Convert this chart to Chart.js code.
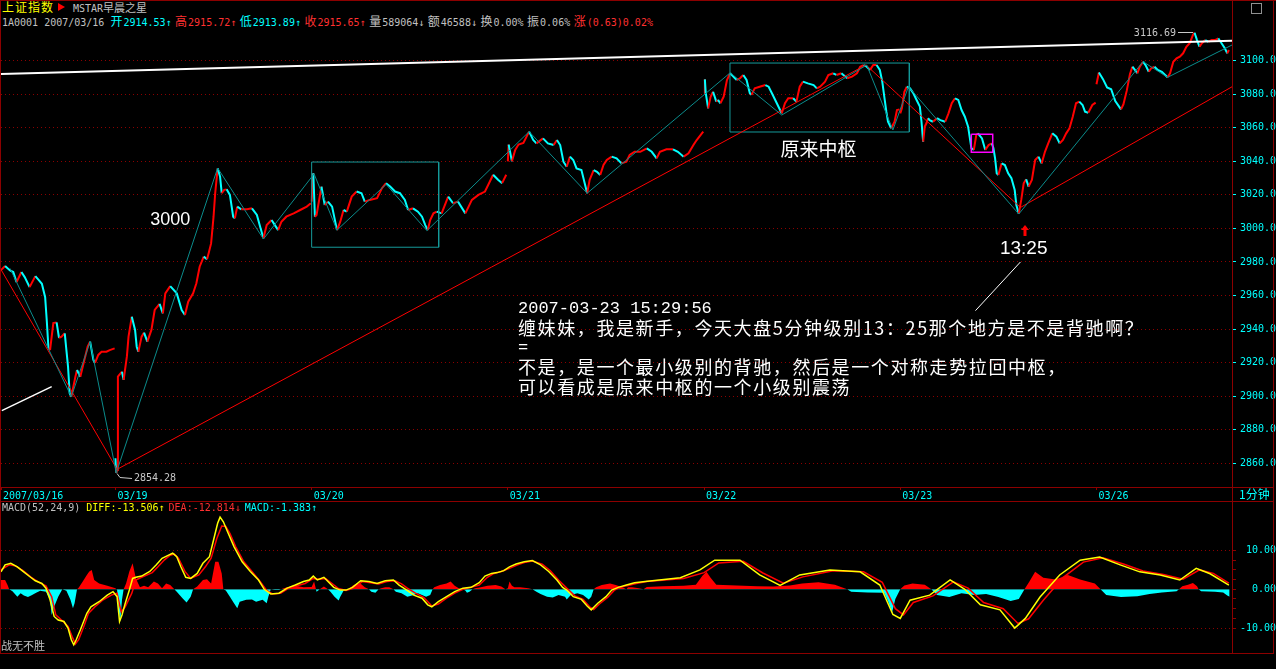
<!DOCTYPE html>
<html lang="zh-CN">
<head>
<meta charset="utf-8">
<title>上证指数 1分钟</title>
<script src="https://cdn.jsdelivr.net/npm/chart.js"></script>
<style>
  html, body { margin:0; padding:0; background:#000; }
  #screen { position:relative; width:1276px; height:669px; overflow:hidden; background:#000;
            font-family:"DejaVu Sans Mono", monospace; }
  .txt { position:absolute; white-space:nowrap; font-size:10px; line-height:12px; }
  .cjk { font-family:"Noto Sans CJK SC", sans-serif; font-size:12px; letter-spacing:1px; }
  .hl { position:absolute; height:1px; background:#8c0000; }
  .vl { position:absolute; width:1px; background:#8c0000; }
  canvas { position:absolute; left:0; }
  .gap { margin-right:4px; }
  .g { margin-right:3.5px; }
</style>
</head>
<body>
<div id="screen">
  <!-- title rows -->
  <div class="txt cjk" style="left:2px;top:0px;color:#ffff00;line-height:14px;letter-spacing:1px;">上证指数</div>
  <div style="position:absolute;left:58px;top:3px;width:0;height:0;border-left:7px solid #ff0000;border-top:4px solid transparent;border-bottom:4px solid transparent;"></div>
  <div class="txt" style="left:73px;top:1px;color:#c0c0c0;line-height:13px;">MSTAR<span class="cjk" style="font-size:11px;letter-spacing:0;">早晨之星</span></div>
  <div class="txt" style="left:2px;top:14px;line-height:13px;color:#c0c0c0;">1A0001 2007/03/16 <span class="g" style="color:#00ffff"><span class="cjk">开</span>2914.53↑</span><span class="g" style="color:#ff3030"><span class="cjk">高</span>2915.72↑</span><span class="g" style="color:#00ffff"><span class="cjk">低</span>2913.89↑</span><span class="g" style="color:#ff3030"><span class="cjk">收</span>2915.65↑</span><span class="g"><span class="cjk">量</span>589064↓</span><span class="g"><span class="cjk">额</span>46588↓</span><span class="g"><span class="cjk">换</span>0.00%</span><span class="g"><span class="cjk">振</span>0.06%</span><span style="color:#ff3030"><span class="cjk">涨</span>(0.63)0.02%</span></div>
  <div style="position:absolute;left:1251px;top:3px;width:9px;height:9px;border:1px solid #909090;"></div>

  <canvas id="main" width="1276" height="473" style="top:28px"></canvas>
  <canvas id="macd" width="1276" height="152" style="top:501px"></canvas>

  <!-- panel frame -->
  <div class="hl" style="left:0;top:0;width:1276px;"></div>
  <div class="hl" style="left:0;top:487px;width:1274px;"></div>
  <div class="hl" style="left:0;top:501px;width:1274px;"></div>
  <div class="hl" style="left:0;top:653px;width:1274px;"></div>
  <div class="vl" style="left:0;top:0;height:654px;"></div>
  <div class="vl" style="left:1232px;top:0;height:654px;"></div>
  <div class="vl" style="left:1273px;top:0;height:654px;"></div>

  <div class="txt cjk" style="left:1239px;top:486px;color:#00ffff;line-height:16px;letter-spacing:0;">1分钟</div>
  <div class="txt" style="left:2px;top:502px;color:#c0c0c0;">MACD(52,24,9) <span class="gap" style="color:#ffff00">DIFF:-13.506↑</span><span class="gap" style="color:#ff3030">DEA:-12.814↓</span><span style="color:#00ffff">MACD:-1.383↑</span></div>
  <div class="txt cjk" style="left:1px;top:638px;color:#c0c0c0;font-size:11px;letter-spacing:0;line-height:14px;">战无不胜</div>
</div>

<script>
// ---------- time axis: one slot per trading minute ----------
const dayLabels = ['2007/03/16', '03/19', '03/20', '03/21', '03/22', '03/23', '03/26'];
const dayStart  = [0, 140, 380, 620, 860, 1100, 1340];
const priceTicks = [2860, 2880, 2900, 2920, 2940, 2960, 2980, 3000, 3020, 3040, 3060, 3080, 3100];
const macdTicks  = [-10, -7.5, -5, -2.5, 0, 2.5, 5, 7.5, 10];

// ---------- index level, [minute of session, price] ----------
const p0316 = [[0,2975.2],[5,2977.6],[11,2975.0],[15,2974.0],[19,2968.0],[25,2974.0],[29,2971.0],[35,2965.0],[42,2971.6],[46,2969.3],[50,2967.0],[54,2959.0],[56,2945.0],[58,2929.0],[60,2927.5],[64,2943.6],[68,2944.0],[71,2934.7],[74,2935.5],[78,2937.5],[80,2927.5],[82,2917.6],[84,2901.7],[86,2899.7],[91,2911.6],[93,2915.6],[97,2911.6],[101,2919.6],[106,2929.5],[109,2932.5],[113,2921.6],[115,2919.8],[119,2924.6],[123,2926.5],[129,2926.5],[133,2927.5],[139,2928.5]];
const p0319 = [[0,2863.0],[1,2854.28],[2,2856.0],[3,2911.7],[8,2914.6],[10,2909.7],[14,2923.7],[16,2935.5],[20,2947.4],[24,2939.5],[26,2929.5],[28,2926.5],[32,2935.5],[35,2937.9],[39,2932.5],[44,2939.5],[48,2951.4],[54,2955.0],[58,2949.4],[61,2961.3],[67,2965.6],[75,2961.3],[81,2951.4],[85,2948.4],[89,2956.3],[95,2961.3],[99,2967.3],[103,2977.2],[108,2983.2],[112,2981.6],[114,2985.2],[117,2991.1],[120,3007.0],[122,3021.0],[125,3035.8],[128,3030.8],[130,3021.0],[133,3023.0],[136,3023.3],[140,3020.0],[144,3007.0],[146,3006.0],[149,3013.0],[154,3011.4],[161,3011.4],[167,3012.0],[173,3008.0],[177,3001.0],[181,2994.1],[185,3002.0],[191,3005.0],[195,3002.0],[199,2999.0],[203,3004.0],[209,3007.0],[218,3009.0],[226,3011.0],[234,3013.0],[239,3015.0]];
const p0320 = [[0,3016.0],[2,3032.9],[4,3007.0],[6,3008.0],[12,3024.9],[16,3014.0],[20,3016.0],[25,3013.0],[31,2999.0],[35,3004.0],[39,3011.0],[43,3010.0],[49,3019.0],[55,3022.0],[61,3021.0],[65,3016.0],[71,3017.0],[80,3018.0],[86,3024.0],[91,3027.0],[96,3025.0],[102,3022.0],[108,3021.0],[114,3017.0],[118,3011.0],[124,3012.0],[130,3010.0],[135,3007.0],[139,3002.0],[142,2999.0],[145,3005.0],[149,3009.0],[153,3010.0],[159,3009.0],[167,3019.0],[173,3015.0],[179,3016.0],[188,3009.0],[196,3017.0],[204,3020.0],[212,3022.0],[218,3028.0],[222,3032.0],[228,3029.0],[233,3027.0],[238,3032.0]];
const p0321 = [[0,3040.0],[1,3050.0],[5,3040.0],[9,3046.8],[13,3050.0],[19,3051.0],[26,3057.7],[31,3052.7],[35,3050.7],[43,3053.7],[49,3050.7],[56,3049.7],[60,3052.7],[64,3049.7],[68,3039.8],[72,3036.8],[76,3042.8],[80,3040.8],[84,3035.8],[90,3034.8],[94,3026.9],[97,3021.0],[100,3028.9],[105,3034.8],[109,3033.8],[113,3031.9],[117,3037.8],[121,3040.8],[127,3042.8],[133,3041.8],[139,3038.8],[145,3039.8],[149,3043.8],[155,3045.7],[162,3045.7],[170,3047.7],[176,3045.7],[182,3041.8],[186,3045.7],[194,3047.2],[202,3047.2],[208,3045.7],[215,3042.8],[221,3044.8],[227,3049.7],[231,3052.7],[239,3057.7]];
const p0322 = [[0,3080.6],[1,3088.9],[2,3081.0],[5,3071.6],[8,3078.5],[11,3081.5],[15,3075.6],[17,3076.6],[20,3074.6],[24,3078.5],[28,3088.5],[32,3092.5],[34,3091.5],[40,3088.5],[44,3089.5],[48,3091.5],[52,3088.5],[56,3080.6],[58,3079.6],[62,3083.5],[68,3084.5],[75,3085.5],[79,3084.5],[83,3080.6],[89,3074.6],[93,3070.6],[95,3068.6],[99,3074.6],[103,3077.6],[109,3077.6],[113,3075.6],[117,3084.5],[121,3087.5],[127,3086.5],[134,3085.5],[138,3083.5],[142,3084.5],[148,3087.5],[152,3091.5],[158,3092.5],[162,3091.5],[168,3092.5],[175,3089.5],[181,3090.5],[187,3092.5],[191,3096.4],[195,3097.4],[199,3096.4],[203,3094.5],[207,3097.4],[211,3097.4],[215,3094.5],[218,3087.5],[221,3076.6],[223,3069.6],[225,3063.6],[229,3059.7],[233,3063.6],[236,3070.6],[239,3071.0]];
const p0323 = [[0,3068.6],[2,3071.6],[5,3081.5],[8,3084.5],[12,3083.5],[16,3080.6],[20,3076.6],[24,3072.6],[26,3063.6],[28,3051.7],[30,3060.7],[32,3062.7],[34,3065.7],[36,3064.6],[40,3063.6],[45,3065.7],[49,3064.6],[55,3063.6],[59,3068.6],[63,3074.6],[67,3077.6],[71,3076.6],[75,3070.6],[79,3066.6],[83,3060.7],[87,3047.8],[90,3046.8],[93,3055.7],[95,3056.7],[100,3053.7],[104,3046.8],[108,3049.7],[112,3050.7],[114,3047.8],[116,3041.8],[118,3032.9],[120,3031.9],[124,3038.8],[128,3037.8],[132,3032.9],[136,3029.9],[140,3022.9],[142,3014.0],[145,3008.8],[148,3017.0],[151,3026.9],[154,3029.3],[157,3024.9],[161,3028.9],[165,3040.8],[169,3042.8],[173,3038.8],[177,3045.7],[181,3050.7],[186,3056.7],[191,3054.7],[195,3050.7],[199,3052.7],[203,3056.7],[207,3059.7],[211,3066.6],[215,3074.6],[219,3075.6],[223,3073.6],[226,3069.6],[230,3069.0],[235,3073.6],[239,3075.0]];
const p0326 = [[0,3086.0],[3,3093.0],[8,3089.0],[13,3084.0],[18,3083.0],[23,3076.0],[30,3071.0],[33,3074.0],[37,3082.0],[41,3092.0],[44,3096.4],[47,3094.5],[50,3092.5],[53,3096.4],[57,3099.4],[60,3097.4],[64,3093.4],[67,3095.5],[71,3096.4],[75,3094.5],[80,3093.4],[84,3091.5],[87,3090.1],[90,3092.5],[94,3099.4],[98,3101.4],[102,3102.4],[106,3104.4],[110,3108.3],[114,3110.4],[118,3115.3],[120,3116.69],[123,3112.3],[126,3108.3],[129,3110.4],[133,3112.3],[137,3111.3],[141,3112.3],[145,3112.3],[149,3113.3],[153,3110.4],[157,3107.4],[160,3104.4],[162,3106.4]];
const priceDays = [p0316, p0319, p0320, p0321, p0322, p0323, p0326];

// ---------- hand-drawn analysis lines, [minute index, price] ----------
const strokePivots  = [[11,2976.2],[86,2899.7],[109,2932.5],[141,2854.3],[265,3036.0],[321,2993.7],[383,3032.5],[411,2999.0],[471,3026.3],[521,2998.7],[646,3057.7],[717,3021.0],[892,3092.8],[955,3067.6],[1059,3097.4],[1091,3058.7],[1110,3084.5],[1245,3008.6],[1397,3099.4],[1427,3090.1],[1506,3109.4]];
const segmentPivots = [[0,2975.5],[142,2856.4],[1058,3097.5],[1247,3012.5],[1506,3084.5]];
const channelTop    = [[0,3092.1],[1506,3111.9]];
const channelLow    = [[1,2891.4],[62,2905.7]];
const calloutLine   = [[1192,2951.0],[1247,2980.0]];
// pivot zones: [from minute, to minute, low, high]
const zone1   = [380, 535.4, 2988.8, 3039.6];
const zone2   = [891.7, 1111.1, 3057.5, 3098.6];
const zoneSub = [1186.9, 1213.1, 3045.4, 3056.1];

// ---------- MACD(52,24,9), [minute index, value] ----------
const macdDiff = [[0,4.5],[5,6.3],[12,6.7],[20,5.8],[27,4.6],[35,3.3],[42,2.2],[50,1.5],[55,0.3],[60,-2.7],[65,-7.0],[70,-7.9],[77,-8.3],[82,-10.0],[86,-13.0],[89,-14.3],[92,-13.0],[97,-10.5],[105,-6.2],[110,-4.5],[120,-3.2],[130,-1.5],[137,-0.6],[142,-1.9],[145,-8.3],[148,-6.6],[152,-3.6],[157,-0.2],[161,2.8],[165,3.1],[172,3.4],[182,4.6],[190,6.3],[197,8.0],[205,8.8],[210,9.3],[215,8.4],[220,5.8],[226,3.1],[232,2.8],[240,4.1],[247,6.7],[255,8.4],[260,12.7],[265,17.0],[268,18.6],[272,17.4],[277,14.9],[285,11.0],[295,7.1],[305,4.6],[315,2.4],[322,0.0],[330,-1.2],[340,-1.0],[350,0.3],[360,1.1],[370,2.0],[377,2.4],[382,3.4],[387,2.4],[395,3.1],[400,2.0],[407,0.5],[415,-0.2],[422,-0.2],[430,0.5],[440,2.2],[450,2.0],[460,1.5],[470,2.2],[480,2.4],[487,1.1],[495,0.0],[505,-1.5],[515,-2.3],[522,-4.0],[527,-4.5],[535,-3.2],[545,-1.9],[555,-0.6],[565,0.3],[575,0.5],[585,1.7],[592,3.4],[600,4.1],[607,4.3],[615,4.8],[622,5.8],[630,6.5],[640,7.1],[650,7.4],[660,6.3],[670,4.6],[680,2.4],[687,0.5],[692,-0.2],[700,-1.9],[710,-2.6],[717,-4.3],[722,-5.3],[730,-3.6],[740,-1.9],[747,-0.2],[755,0.5],[765,1.1],[775,1.7],[788,2.0],[831,3.0],[855,5.0],[873,7.5],[904,7.5],[928,3.7],[953,1.0],[977,3.7],[1014,5.0],[1051,4.5],[1075,1.1],[1091,-6.5],[1100,-7.5],[1112,-2.8],[1136,-1.5],[1161,2.4],[1179,0.0],[1198,-4.0],[1222,-5.3],[1240,-10.0],[1253,-7.5],[1271,-2.0],[1295,3.7],[1320,7.5],[1344,8.3],[1369,6.3],[1393,4.5],[1418,3.7],[1442,2.4],[1462,5.4],[1479,4.0],[1502,1.1]];
const macdDea = [[0,5.0],[10,6.3],[17,6.1],[27,4.8],[37,3.1],[47,1.7],[55,0.9],[62,-1.9],[67,-6.6],[75,-8.1],[82,-9.6],[87,-12.2],[91,-14.1],[95,-13.0],[102,-9.2],[107,-6.2],[115,-4.5],[125,-2.7],[135,-1.5],[142,-1.0],[147,-5.8],[152,-4.5],[160,-1.0],[165,2.4],[172,3.1],[185,4.3],[192,5.8],[200,7.6],[207,8.8],[212,9.1],[217,8.0],[225,4.6],[232,2.8],[242,3.7],[250,5.8],[257,8.0],[264,13.1],[270,16.3],[275,16.2],[280,14.4],[287,11.0],[297,7.1],[307,4.6],[317,2.0],[325,-0.3],[332,-1.2],[342,-1.0],[352,0.3],[362,0.9],[372,1.5],[382,2.8],[390,2.6],[397,2.8],[405,1.5],[412,0.3],[422,-0.3],[432,0.3],[442,2.0],[452,1.7],[462,1.4],[472,2.0],[482,2.2],[490,1.4],[497,0.3],[507,-1.0],[517,-2.1],[527,-4.3],[535,-3.8],[545,-2.3],[555,-1.0],[565,0.0],[575,0.5],[585,1.1],[595,3.1],[602,4.0],[612,4.6],[622,5.4],[632,6.3],[642,7.0],[650,7.3],[662,6.5],[672,4.8],[682,2.4],[692,0.3],[702,-1.7],[712,-2.6],[720,-4.5],[725,-5.2],[732,-3.8],[742,-2.1],[750,-0.3],[757,0.5],[767,1.0],[777,1.5],[790,2.0],[835,2.8],[860,4.3],[878,6.8],[908,7.2],[932,4.2],[957,1.6],[981,3.2],[1018,4.8],[1055,4.5],[1078,1.8],[1094,-5.0],[1104,-6.6],[1116,-3.4],[1140,-1.7],[1165,1.9],[1183,0.3],[1202,-3.4],[1226,-5.0],[1244,-8.8],[1257,-7.6],[1275,-2.8],[1299,3.0],[1324,7.0],[1348,8.1],[1373,6.5],[1397,4.7],[1422,3.8],[1446,2.6],[1466,5.0],[1483,4.1],[1502,1.6]];
const macdHist = [[0,2.4],[5,2.4],[8,1.1],[10,0.0],[14,-0.5],[20,-1.9],[24,-1.0],[28,-1.6],[33,-2.0],[38,-1.5],[43,-0.9],[48,-0.4],[55,-0.6],[60,-2.7],[62,-6.6],[65,-4.5],[70,-1.9],[75,0.0],[80,-0.4],[85,-2.7],[88,-4.9],[90,-3.6],[93,0.0],[95,0.4],[100,2.0],[105,3.7],[108,4.6],[111,5.0],[114,2.4],[120,1.5],[130,0.9],[140,0.3],[142,-0.2],[144,-5.3],[146,-8.3],[148,-2.7],[150,0.0],[153,1.5],[157,4.6],[161,6.7],[165,2.8],[170,0.5],[175,0.9],[180,0.5],[187,2.0],[192,1.5],[197,0.3],[202,1.5],[207,1.1],[212,0.0],[215,-0.6],[222,-2.3],[227,-3.4],[232,-1.9],[235,0.0],[240,0.7],[247,2.4],[252,2.6],[257,1.5],[262,7.1],[266,7.1],[270,4.1],[272,0.0],[275,-0.3],[280,-1.9],[285,-3.6],[289,-4.9],[292,-3.2],[300,-2.7],[307,-2.6],[312,-3.2],[320,-2.7],[325,-3.6],[327,-1.9],[330,0.0],[335,-0.2],[340,-0.2],[345,0.2],[350,0.5],[360,0.9],[370,0.5],[380,0.6],[383,2.0],[386,-0.6],[390,0.0],[395,0.7],[400,0.0],[403,-0.6],[408,-1.9],[413,-2.9],[415,-1.9],[420,0.0],[425,0.0],[430,0.9],[435,1.5],[440,1.4],[445,0.5],[450,0.0],[453,-0.6],[458,-0.9],[462,0.0],[465,0.3],[470,0.5],[475,0.5],[480,0.0],[483,-0.6],[490,-1.0],[497,-1.9],[505,-1.5],[510,-1.0],[520,-1.9],[525,-1.5],[528,0.0],[530,0.5],[537,1.1],[545,1.5],[550,2.0],[555,0.9],[560,0.3],[565,0.0],[568,-0.3],[570,-0.9],[573,-0.6],[577,0.0],[580,0.3],[587,0.5],[595,0.9],[605,1.1],[612,0.7],[617,0.0],[620,0.3],[622,2.0],[625,0.9],[628,0.5],[635,0.5],[645,0.3],[650,0.0],[655,-0.6],[660,-1.2],[668,-1.9],[675,-2.1],[682,-1.5],[690,-1.9],[692,-2.6],[697,-1.5],[705,-1.0],[712,-1.5],[719,-2.6],[722,-1.9],[725,0.0],[728,0.5],[735,1.1],[745,1.5],[752,1.1],[760,0.5],[765,0.0],[767,0.5],[772,0.5],[780,0.3],[786,0.0],[790,0.6],[810,0.8],[835,0.9],[850,1.2],[858,3.5],[863,4.5],[868,3.0],[875,1.2],[900,1.0],[925,0.8],[945,0.7],[965,1.0],[980,1.5],[1000,1.8],[1020,1.2],[1035,0.0],[1040,-0.6],[1060,-0.8],[1080,-0.9],[1085,-3.0],[1090,-6.0],[1094,-2.5],[1100,0.0],[1105,1.0],[1115,1.5],[1130,1.2],[1138,0.0],[1145,-1.5],[1160,-2.0],[1175,-1.0],[1190,-1.5],[1205,-1.2],[1220,-2.0],[1235,-3.0],[1245,-2.5],[1252,0.0],[1258,2.0],[1265,4.5],[1275,3.0],[1290,2.5],[1305,3.7],[1320,2.5],[1338,1.5],[1345,0.0],[1352,-1.5],[1370,-2.0],[1390,-1.8],[1405,-1.2],[1420,-0.8],[1438,-0.5],[1441,0.0],[1445,0.8],[1452,1.2],[1458,1.6],[1463,0.8],[1465,0.0],[1468,-0.5],[1485,-0.6],[1495,-0.8],[1500,-1.6],[1503,-1.9]];

// ---------- annotations ----------
const noteLabels = [
  { text: '3000',     at: [207, 3005.0],   font: '18px "Liberation Sans"' },
  { text: '原来中枢', at: [1000, 3047.5],  font: '19px "Noto Sans CJK SC"' },
  { text: '13:25',    at: [1251, 2987.9],  font: '19px "Liberation Sans"' }
];
const noteArrowAt = [1252.6, 3002.1];
const noteBlockAt = [632.4, 2952.1];
const noteBlock = [
  '2007-03-23 15:29:56',
  '缠妹妹，我是新手，今天大盘5分钟级别13：25那个地方是不是背驰啊？',
  '=',
  '不是，是一个最小级别的背驰，然后是一个对称走势拉回中枢，',
  '可以看成是原来中枢的一个小级别震荡'
];

// ---------- styling ----------
const UP = '#ff0000', DOWN = '#00ffff', TEAL = '#0b8c8c', FRAME = '#8c0000', GRID = '#8c0000';
const CYAN = '#00ffff', MONO = '"DejaVu Sans Mono", monospace';
const X_MAX = 1505.8;
const PRICE_MIN = 2845.87, PRICE_MAX = 3119.49;
const MACD_MIN = -16.42, MACD_MAX = 22.76;

const xy = arr => arr.map(([x, y]) => ({ x, y }));
const rect = ([x0, x1, lo, hi]) => xy([[x0, hi], [x1, hi], [x1, lo], [x0, lo], [x0, hi]]);
function sessionPoints() {
  const out = [];
  priceDays.forEach((day, d) => {
    if (d > 0) out.push({ x: dayStart[d] - 0.5, y: null });
    day.forEach(([m, p]) => out.push({ x: dayStart[d] + m, y: p }));
  });
  return out;
}
const plain = (data, color, width) => ({ data, borderColor: color, borderWidth: width, pointRadius: 0, tension: 0, fill: false });
// keep the plot area flush with the panel edges
const flush = width => s => {
  if (width) s.width = width;
  s.paddingTop = 0; s.paddingBottom = 0; s.paddingLeft = 0; s.paddingRight = 0;
};

const notesPlugin = {
  id: 'notes',
  afterDatasetsDraw(chart) {
    const { ctx, scales: { x, y } } = chart;
    const px = v => x.getPixelForValue(v), py = v => y.getPixelForValue(v);
    ctx.save();
    ctx.textBaseline = 'middle';

    // session high / low tags
    const pts = chart.data.datasets[0].data.filter(p => p.y != null);
    let hi = pts[0], lo = pts[0];
    pts.forEach(p => { if (p.y > hi.y) hi = p; if (p.y < lo.y) lo = p; });
    ctx.strokeStyle = ctx.fillStyle = '#c8c8c8';
    ctx.lineWidth = 1;
    ctx.font = '10px ' + MONO;
    let hx = Math.round(px(hi.x)), hy = Math.round(py(hi.y));
    ctx.beginPath(); ctx.moveTo(hx - 2, hy - 0.5); ctx.lineTo(hx - 17, hy - 0.5); ctx.stroke();
    ctx.textAlign = 'right'; ctx.fillText(hi.y.toFixed(2), hx - 19, hy);
    let lx = Math.round(px(lo.x)), ly = Math.round(py(lo.y));
    ctx.beginPath(); ctx.moveTo(lx + 1, ly + 0.5); ctx.lineTo(lx + 4, ly + 4.5); ctx.lineTo(lx + 16, ly + 5.5); ctx.stroke();
    ctx.textAlign = 'left'; ctx.fillText(lo.y.toFixed(2), lx + 18, ly + 5.5);

    // free text labels
    ctx.fillStyle = '#ffffff';
    ctx.textAlign = 'center';
    noteLabels.forEach(n => { ctx.font = n.font; ctx.fillText(n.text, px(n.at[0]), py(n.at[1])); });

    // red marker arrow under the 13:25 low
    const ax = Math.round(px(noteArrowAt[0])), ay = Math.round(py(noteArrowAt[1]));
    ctx.fillStyle = '#ff0000';
    ctx.beginPath(); ctx.moveTo(ax, ay); ctx.lineTo(ax - 4, ay + 5); ctx.lineTo(ax + 4, ay + 5); ctx.closePath(); ctx.fill();
    ctx.fillRect(ax - 1.5, ay + 5, 3, 6);

    // question / answer block
    ctx.fillStyle = '#ffffff';
    ctx.textAlign = 'left';
    const bx = px(noteBlockAt[0]), by = py(noteBlockAt[1]);
    noteBlock.forEach((line, i) => {
      const ascii = /^[\x20-\x7e]+$/.test(line);
      ctx.font = ascii ? '17px "Liberation Mono", monospace' : '18px "Noto Sans CJK SC", sans-serif';
      ctx.letterSpacing = ascii ? '0px' : '1.6px';
      ctx.fillText(line, bx, by + i * 19.5);
    });
    ctx.letterSpacing = '0px';
    ctx.restore();
  }
};

const common = {
  responsive: false, animation: false, devicePixelRatio: 1, events: [],
  plugins: { legend: { display: false }, tooltip: { enabled: false } }
};

new Chart(document.getElementById('main'), {
  type: 'line',
  data: {
    datasets: [
      {
        data: sessionPoints(), borderWidth: 2, borderColor: UP, pointRadius: 0, tension: 0, spanGaps: false, order: 9,
        segment: { borderColor: c => (c.p1.parsed.y >= c.p0.parsed.y ? UP : DOWN) }
      },
      plain(xy(strokePivots), TEAL, 1),
      plain(xy(segmentPivots), UP, 1),
      plain(xy(channelTop), '#ffffff', 2),
      plain(xy(channelLow), '#ffffff', 1.5),
      plain(xy(calloutLine), '#ffffff', 1),
      plain(rect(zone1), '#159a9a', 1),
      plain(rect(zone2), '#159a9a', 1),
      plain(rect(zoneSub), '#ff00ff', 1.5)
    ]
  },
  options: {
    ...common,
    layout: { padding: { left: 1, right: 0, top: 0, bottom: 0 } },
    scales: {
      x: {
        type: 'linear', position: 'bottom', min: 0, max: X_MAX,
        afterBuildTicks: s => { s.ticks = dayStart.map(v => ({ value: v })); },
        afterFit: s => { s.height = 14; s.paddingLeft = 0; s.paddingRight = 0; },
        ticks: { autoSkip: false, maxRotation: 0, minRotation: 0, align: 'start', labelOffset: 2, padding: 0,
                 color: CYAN, font: { family: MONO, size: 10 }, callback: (v, i) => dayLabels[i] },
        grid: { drawOnChartArea: false, drawTicks: true, tickLength: 3, tickColor: FRAME, color: FRAME },
        border: { display: false }
      },
      y: {
        type: 'linear', position: 'right', min: PRICE_MIN, max: PRICE_MAX,
        afterBuildTicks: s => { s.ticks = priceTicks.map(v => ({ value: v })); },
        afterFit: flush(44),
        ticks: { color: CYAN, padding: 1, crossAlign: 'far', font: { family: MONO, size: 10 }, callback: v => v.toFixed(1) },
        grid: { color: GRID, lineWidth: 1, drawTicks: true, tickLength: 4, tickColor: CYAN },
        border: { display: false, dash: [1, 3] }
      }
    }
  },
  plugins: [notesPlugin]
});

new Chart(document.getElementById('macd'), {
  type: 'line',
  data: {
    datasets: [
      plain(xy(macdDiff), '#ffff00', 1.5),
      plain(xy(macdDea), '#ff0000', 1.5),
      { data: xy(macdHist), borderWidth: 0, borderColor: 'transparent', pointRadius: 0, tension: 0, order: 5,
        fill: { target: 'origin', above: '#ff0000', below: '#00ffff' } }
    ]
  },
  options: {
    ...common,
    layout: { padding: { left: 1, right: 0, top: 0, bottom: 0 } },
    scales: {
      x: { type: 'linear', display: false, min: 0, max: X_MAX },
      y: {
        type: 'linear', position: 'right', min: MACD_MIN, max: MACD_MAX,
        afterBuildTicks: s => { s.ticks = macdTicks.map(v => ({ value: v })); },
        afterFit: flush(44),
        ticks: { color: CYAN, padding: 1, crossAlign: 'far', font: { family: MONO, size: 10 },
                 callback: v => (v % 10 === 0 ? v.toFixed(2) : '') },
        grid: { color: c => (c.tick && Math.abs(c.tick.value) === 10 ? GRID : 'rgba(0,0,0,0)'),
                drawTicks: true, tickLength: 4, tickColor: FRAME },
        border: { display: false, dash: [1, 3] }
      }
    }
  }
});
</script>
</body>
</html>
